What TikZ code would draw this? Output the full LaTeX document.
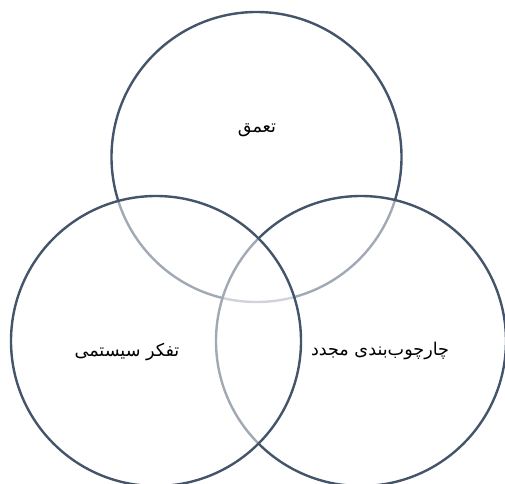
\documentclass[tikz,border=0pt]{standalone}
\usepackage{fontspec}
\newfontfamily\arabicfont[Script=Arabic]{DejaVu Sans}
\TeXXeTstate=1
\definecolor{slatetxt}{RGB}{68,84,106}

\begin{document}
\begin{tikzpicture}[x=0.75pt,y=0.75pt,line cap=round,line join=round,
  ring/.style={circle,draw=slatetxt,line width=1.8pt,fill=white,fill opacity=0.5,
    minimum size=217.5pt,inner sep=0pt},
  label/.style={font=\arabicfont\fontsize{13.2}{15}\selectfont,inner sep=1pt}]
  \useasboundingbox (0,0) rectangle (505,483);
  % circles, drawn from bottom layer to top layer
  \node[ring] (depth) at (256.5,326) {};
  \node[ring] (reframe) at (361,142) {};
  \node[ring] (systems) at (156,142) {};
  % labels
  \node[label] (depthtext) at (257,353) {\beginR تعمق\endR};
  \node[label] (systemstext) at (127,131) {\beginR تفکر سیستمی\endR};
  \node[label] (reframetext) at (380,132) {\beginR چارچوب‌بندی مجدد\endR};
\end{tikzpicture}
\end{document}
